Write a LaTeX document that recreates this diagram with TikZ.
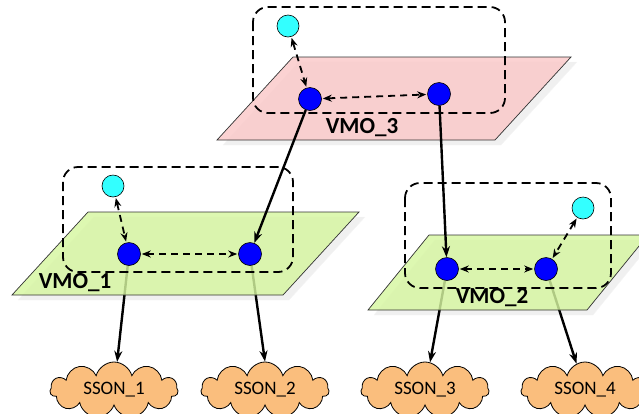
\documentclass[tikz,border=0pt]{standalone}
\usepackage{fontspec}
\setmainfont{Carlito}
\usetikzlibrary{arrows.meta,shapes.symbols}
\pgfdeclarelayer{back}
\pgfdeclarelayer{plane}
\pgfsetlayers{back,plane,main}
\definecolor{pinkplane}{RGB}{250,200,200}
\definecolor{greenplane}{RGB}{214,246,160}
\definecolor{cloudfill}{RGB}{250,190,125}
\definecolor{agentcol}{RGB}{51,255,255}
\definecolor{nodeblue}{RGB}{0,0,255}
\tikzset{
  vmo/.style={draw,circle,fill=nodeblue,minimum size=23pt,inner sep=0pt,line width=0.6pt},
  agent/.style={draw,circle,fill=agentcol,minimum size=22pt,inner sep=0pt,line width=0.6pt},
  sson/.style={draw,cloud,cloud puffs=11,cloud ignores aspect,fill=cloudfill,
    minimum width=128pt,minimum height=56pt,inner sep=0pt,line width=0.8pt,
    font=\fontsize{19}{19}\selectfont},
  vmolabel/.style={font=\bfseries\fontsize{23}{23}\selectfont},
  planesty/.style={draw=black!80,line width=0.7pt,fill opacity=0.82},
  shadowsty/.style={fill=black!6,draw=black!4},
  group/.style={draw,rounded corners=15pt,line width=1.8pt,dash pattern=on 9pt off 5pt},
  peer/.style={{Stealth[length=9pt,width=7pt]}-{Stealth[length=9pt,width=7pt]},
    line width=1.8pt,dash pattern=on 7pt off 5pt,shorten <=1pt,shorten >=1pt},
  link/.style={-{Stealth[length=11pt,width=8pt]},line width=2.4pt}
}
\begin{document}
\begin{tikzpicture}[x=1pt,y=-1pt]
  \useasboundingbox (0,0) rectangle (639,413);
  \clip (0,0) rectangle (639,413);
  % planes
  \begin{pgfonlayer}{back}
    \fill[shadowsty] (299,62) -- (577,62) -- (501,145) -- (223,145) -- cycle;
    \fill[shadowsty] (94,217) -- (365,217) -- (289,300) -- (18,300) -- cycle;
    \fill[shadowsty] (435,240) -- (654,240) -- (593,315) -- (374,315) -- cycle;
  \end{pgfonlayer}
  \begin{pgfonlayer}{plane}
    \filldraw[planesty,fill=pinkplane] (293,57) -- (571,57) -- (495,140) -- (217,140) -- cycle;
    \filldraw[planesty,fill=greenplane] (88,212) -- (359,212) -- (283,295) -- (12,295) -- cycle;
    \filldraw[planesty,fill=greenplane] (429,235) -- (648,235) -- (587,310) -- (368,310) -- cycle;
  \end{pgfonlayer}
  \draw[group] (253,7) rectangle (505,113);
  \draw[group] (63,167) rectangle (293,272);
  \draw[group] (405,183) rectangle (611,288);
  \node[vmolabel] (l3) at (362,128) {VMO\_3};
  \node[vmolabel] (l1) at (75,283) {VMO\_1};
  \node[vmolabel] (l2) at (492,298) {VMO\_2};
  % nodes
  \node[agent] (a3) at (288,26) {};
  \node[vmo] (v31) at (310,99) {};
  \node[vmo] (v32) at (439,94) {};
  \node[agent] (a1) at (113,186) {};
  \node[vmo] (v11) at (129,254) {};
  \node[vmo] (v12) at (250,254) {};
  \node[agent] (a2) at (583,208) {};
  \node[vmo] (v21) at (447,269) {};
  \node[vmo] (v22) at (546,269) {};
  \node[sson] (s1) at (114,390) {SSON\_1};
  \node[sson] (s2) at (265,390) {SSON\_2};
  \node[sson] (s3) at (425,390) {SSON\_3};
  \node[sson] (s4) at (585,390) {SSON\_4};
  % links
  \draw[peer] (a3) -- (v31);
  \draw[peer] (v31) -- (v32);
  \draw[peer] (a1) -- (v11);
  \draw[peer] (v11) -- (v12);
  \draw[peer] (a2) -- (v22);
  \draw[peer] (v21) -- (v22);
  \draw[link] (v31) -- (v12);
  \draw[link] (v32) -- (v21);
  \begin{pgfonlayer}{back}
    \draw[link] (v11) -- (s1);
    \draw[link] (v12) -- (s2.north);
    \draw[link] (v21) -- (s3);
    \draw[link] (v22) -- (s4);
  \end{pgfonlayer}
\end{tikzpicture}
\end{document}
